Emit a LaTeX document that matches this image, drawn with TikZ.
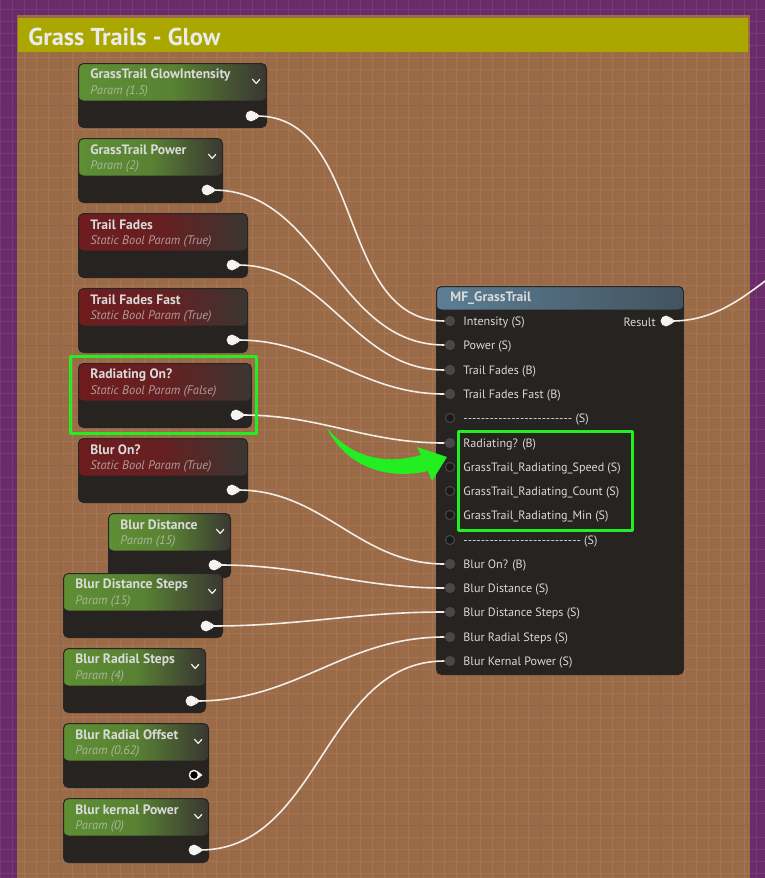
\documentclass[tikz,border=0pt]{standalone}
\usepackage{fontspec}
\setmainfont{PT Sans}
\usepackage{tikz}
\usetikzlibrary{calc}

\definecolor{bgpurple}{HTML}{6B2B6B}
\definecolor{panel}{HTML}{9B6A47}
\definecolor{headyel}{HTML}{AAA800}
\definecolor{pbody}{HTML}{272320}
\definecolor{pgreen}{HTML}{5E8F33}
\definecolor{pred}{HTML}{6E1C1E}
\definecolor{pdark}{HTML}{3A3632}
\definecolor{mfblue}{HTML}{5C7E95}
\definecolor{mfdark}{HTML}{43535F}
\definecolor{wirecol}{HTML}{F2EEE6}
\definecolor{pinw}{HTML}{F4F4F4}
\definecolor{pingray}{HTML}{4A4846}
\definecolor{hlgreen}{HTML}{22EE22}
\definecolor{txtlight}{HTML}{DADADA}
\definecolor{subgreen}{HTML}{A9B79A}
\definecolor{subred}{HTML}{B39A9A}

\newcommand\dashline[1]{\foreach\k in {1,...,#1}{-\kern0pt}}

\begin{document}
\begin{tikzpicture}[x=0.5pt,y=-0.5pt,line join=round,
  param/.style={draw=black!85,line width=0.5pt,rounded corners=2.5pt,fill=pbody,
    anchor=north west,minimum height=32pt,inner sep=0pt},
  pgreenbox/.style={param,path picture={\shade[left color=pgreen,right color=pdark,middle color=pgreen!85!pdark]
    (path picture bounding box.north west) rectangle ([yshift=-18.5pt]path picture bounding box.north east);}},
  predbox/.style={param,path picture={\shade[left color=pred,right color=pdark,middle color=pred!85!pdark]
    (path picture bounding box.north west) rectangle ([yshift=-18.5pt]path picture bounding box.north east);}},
  mfbox/.style={param,path picture={\shade[left color=mfblue,right color=mfdark]
    (path picture bounding box.north west) rectangle ([yshift=-11.5pt]path picture bounding box.north east);}},
  ptitle/.style={anchor=west,inner sep=0pt,yshift=-0.6pt,text=txtlight,font=\bfseries\fontsize{6.8}{8}\selectfont},
  psub/.style={anchor=west,inner sep=0pt,yshift=-0.4pt,font=\itshape\fontsize{6.2}{7}\selectfont},
  mfrow/.style={anchor=west,inner sep=0pt,yshift=-0.7pt,text=txtlight,font=\fontsize{6.05}{7}\selectfont},
  pout/.style={circle,fill=pinw,inner sep=0pt,minimum size=5.4pt},
  pnone/.style={circle,fill=black,draw=pinw,line width=0.7pt,inner sep=0pt,minimum size=4.6pt},
  pinon/.style={circle,fill=pingray,inner sep=0pt,minimum size=5.2pt},
  pinoff/.style={circle,fill=black!90,draw=pingray,line width=0.5pt,inner sep=0pt,minimum size=4.6pt},
  chev/.style={draw=pinw,line width=0.6pt,line cap=round},
  wire/.style={draw=wirecol,line width=0.8pt},
  hl/.style={draw=hlgreen,line width=1.5pt}]
  \useasboundingbox (0,0) rectangle (765,878);
  % background and comment frame
  \fill[bgpurple] (0,0) rectangle (765,878);
  \fill[panel] (17,15) rectangle (750,878);
  \draw[step=6pt,white,opacity=0.08,line width=0.35pt,yshift=1.5pt] (0pt,6pt) grid (384pt,-444pt);
  \draw[step=60pt,black,opacity=0.13,line width=0.5pt,xshift=30pt,yshift=7.5pt] (-30pt,0pt) grid (360pt,-450pt);
  \fill[headyel] (18,18) rectangle (748,52);
  \node[anchor=west,inner sep=0pt,text=white!92!black,font=\bfseries\fontsize{12.2}{14}\selectfont] (frame-t) at (28,37) {Grass Trails - Glow};

  % parameter nodes
  \node[pgreenbox,minimum width=94pt] (gi) at (78,63) {};
  \node[ptitle] (gi-t) at ([xshift=6pt,yshift=-5.5pt]gi.north west) {GrassTrail GlowIntensity};
  \node[psub,text=subgreen] (gi-s) at ([xshift=6pt,yshift=-14pt]gi.north west) {Param (1.5)};
  \draw[chev] ([xshift=-7.2pt,yshift=-8.2pt]gi.north east) -- ++(1.8pt,-2pt) -- ++(1.8pt,2pt);
  \node[pout] (gi-o) at ([xshift=-8pt,yshift=6pt]gi.south east) {};

  \node[pgreenbox,minimum width=72pt] (gp) at (78,138) {};
  \node[ptitle] (gp-t) at ([xshift=6pt,yshift=-5.5pt]gp.north west) {GrassTrail Power};
  \node[psub,text=subgreen] (gp-s) at ([xshift=6pt,yshift=-14pt]gp.north west) {Param (2)};
  \draw[chev] ([xshift=-7.2pt,yshift=-8.2pt]gp.north east) -- ++(1.8pt,-2pt) -- ++(1.8pt,2pt);
  \node[pout] (gp-o) at ([xshift=-8pt,yshift=6.5pt]gp.south east) {};

  \node[predbox,minimum width=84.5pt] (tf) at (78,213) {};
  \node[ptitle] (tf-t) at ([xshift=6pt,yshift=-5.5pt]tf.north west) {Trail Fades};
  \node[psub,text=subred] (tf-s) at ([xshift=6pt,yshift=-14pt]tf.north west) {Static Bool Param (True)};
  \node[pout] (tf-o) at ([xshift=-8pt,yshift=6.5pt]tf.south east) {};

  \node[predbox,minimum width=84.5pt] (tff) at (78,288) {};
  \node[ptitle] (tff-t) at ([xshift=6pt,yshift=-5.5pt]tff.north west) {Trail Fades Fast};
  \node[psub,text=subred] (tff-s) at ([xshift=6pt,yshift=-14pt]tff.north west) {Static Bool Param (True)};
  \node[pout] (tff-o) at ([xshift=-8pt,yshift=6.5pt]tff.south east) {};

  \node[predbox,minimum width=86.5pt] (ro) at (78,363) {};
  \node[ptitle] (ro-t) at ([xshift=6pt,yshift=-5.5pt]ro.north west) {Radiating On?};
  \node[psub,text=subred] (ro-s) at ([xshift=6pt,yshift=-14pt]ro.north west) {Static Bool Param (False)};
  \node[pout] (ro-o) at ([xshift=-8pt,yshift=6.5pt]ro.south east) {};

  \node[predbox,minimum width=84.5pt] (bo) at (78,438) {};
  \node[ptitle] (bo-t) at ([xshift=6pt,yshift=-5.5pt]bo.north west) {Blur On?};
  \node[psub,text=subred] (bo-s) at ([xshift=6pt,yshift=-14pt]bo.north west) {Static Bool Param (True)};
  \node[pout] (bo-o) at ([xshift=-8pt,yshift=6.5pt]bo.south east) {};

  \node[pgreenbox,minimum width=61pt] (bd) at (108,513) {};
  \node[ptitle] (bd-t) at ([xshift=6pt,yshift=-5.5pt]bd.north west) {Blur Distance};
  \node[psub,text=subgreen] (bd-s) at ([xshift=6pt,yshift=-14pt]bd.north west) {Param (15)};
  \draw[chev] ([xshift=-7.2pt,yshift=-8.2pt]bd.north east) -- ++(1.8pt,-2pt) -- ++(1.8pt,2pt);
  \node[pout] (bd-o) at ([xshift=-8.5pt,yshift=6.5pt]bd.south east) {};

  \node[pgreenbox,minimum width=79.5pt] (bds) at (63,573) {};
  \node[ptitle] (bds-t) at ([xshift=6pt,yshift=-5.5pt]bds.north west) {Blur Distance Steps};
  \node[psub,text=subgreen] (bds-s) at ([xshift=6pt,yshift=-14pt]bds.north west) {Param (15)};
  \draw[chev] ([xshift=-7.2pt,yshift=-8.2pt]bds.north east) -- ++(1.8pt,-2pt) -- ++(1.8pt,2pt);
  \node[pout] (bds-o) at ([xshift=-8.5pt,yshift=6pt]bds.south east) {};

  \node[pgreenbox,minimum width=71pt] (brs) at (63,648) {};
  \node[ptitle] (brs-t) at ([xshift=6pt,yshift=-5.5pt]brs.north west) {Blur Radial Steps};
  \node[psub,text=subgreen] (brs-s) at ([xshift=6pt,yshift=-14pt]brs.north west) {Param (4)};
  \draw[chev] ([xshift=-7.2pt,yshift=-8.2pt]brs.north east) -- ++(1.8pt,-2pt) -- ++(1.8pt,2pt);
  \node[pout] (brs-o) at ([xshift=-7.5pt,yshift=6pt]brs.south east) {};

  \node[pgreenbox,minimum width=72.5pt] (bro) at (63,723) {};
  \node[ptitle] (bro-t) at ([xshift=6pt,yshift=-5.5pt]bro.north west) {Blur Radial Offset};
  \node[psub,text=subgreen] (bro-s) at ([xshift=6pt,yshift=-14pt]bro.north west) {Param (0.62)};
  \draw[chev] ([xshift=-7.2pt,yshift=-8.2pt]bro.north east) -- ++(1.8pt,-2pt) -- ++(1.8pt,2pt);
  \node[pnone] (bro-o) at ([xshift=-7.5pt,yshift=6.5pt]bro.south east) {};

  \node[pgreenbox,minimum width=72.5pt] (bkp) at (63,798) {};
  \node[ptitle] (bkp-t) at ([xshift=6pt,yshift=-5.5pt]bkp.north west) {Blur kernal Power};
  \node[psub,text=subgreen] (bkp-s) at ([xshift=6pt,yshift=-14pt]bkp.north west) {Param (0)};
  \draw[chev] ([xshift=-7.2pt,yshift=-8.2pt]bkp.north east) -- ++(1.8pt,-2pt) -- ++(1.8pt,2pt);
  \node[pout] (bkp-o) at ([xshift=-7.5pt,yshift=6.5pt]bkp.south east) {};

  % pin tips
  \fill[pinw] (gi-o.40) -- ([xshift=1.6pt]gi-o.east) -- (gi-o.-40) -- cycle
    (gp-o.40) -- ([xshift=1.6pt]gp-o.east) -- (gp-o.-40) -- cycle
    (tf-o.40) -- ([xshift=1.6pt]tf-o.east) -- (tf-o.-40) -- cycle
    (tff-o.40) -- ([xshift=1.6pt]tff-o.east) -- (tff-o.-40) -- cycle
    (ro-o.40) -- ([xshift=1.6pt]ro-o.east) -- (ro-o.-40) -- cycle
    (bo-o.40) -- ([xshift=1.6pt]bo-o.east) -- (bo-o.-40) -- cycle
    (bd-o.40) -- ([xshift=1.6pt]bd-o.east) -- (bd-o.-40) -- cycle
    (bds-o.40) -- ([xshift=1.6pt]bds-o.east) -- (bds-o.-40) -- cycle
    (brs-o.40) -- ([xshift=1.6pt]brs-o.east) -- (brs-o.-40) -- cycle
    (bro-o.40) -- ([xshift=1.6pt]bro-o.east) -- (bro-o.-40) -- cycle
    (bkp-o.40) -- ([xshift=1.6pt]bkp-o.east) -- (bkp-o.-40) -- cycle;

  % material function node
  \node[mfbox,minimum width=123.5pt,minimum height=194pt] (mf) at (436,286) {};
  \node[ptitle] (mf-t) at (450,297) {MF\_GrassTrail};
  \node[pinon] (mf-int) at (450,321) {};
  \node[mfrow] (mf-int-t) at (463,321) {Intensity (S)};
  \node[pinon] (mf-pow) at (450,345) {};
  \node[mfrow] (mf-pow-t) at (463,345) {Power (S)};
  \node[pinon] (mf-tf) at (450,370) {};
  \node[mfrow] (mf-tf-t) at (463,370) {Trail Fades (B)};
  \node[pinon] (mf-tff) at (450,394) {};
  \node[mfrow] (mf-tff-t) at (463,394) {Trail Fades Fast (B)};
  \node[pinoff] (mf-sep1) at (450,418) {};
  \node[mfrow] (mf-sep1-t) at (463,418) {\dashline{25} (S)};
  \node[pinon] (mf-rad) at (450,443) {};
  \node[mfrow] (mf-rad-t) at (463,443) {Radiating? (B)};
  \node[pinoff] (mf-spd) at (450,467) {};
  \node[mfrow] (mf-spd-t) at (463,467) {GrassTrail\_Radiating\_Speed (S)};
  \node[pinoff] (mf-cnt) at (450,491) {};
  \node[mfrow] (mf-cnt-t) at (463,491) {GrassTrail\_Radiating\_Count (S)};
  \node[pinoff] (mf-min) at (450,515) {};
  \node[mfrow] (mf-min-t) at (463,515) {GrassTrail\_Radiating\_Min (S)};
  \node[pinoff] (mf-sep2) at (450,540) {};
  \node[mfrow] (mf-sep2-t) at (463,540) {\dashline{27} (S)};
  \node[pinon] (mf-bon) at (450,564) {};
  \node[mfrow] (mf-bon-t) at (463,564) {Blur On? (B)};
  \node[pinon] (mf-bd) at (450,588) {};
  \node[mfrow] (mf-bd-t) at (463,588) {Blur Distance (S)};
  \node[pinon] (mf-bds) at (450,612) {};
  \node[mfrow] (mf-bds-t) at (463,612) {Blur Distance Steps (S)};
  \node[pinon] (mf-brs) at (450,637) {};
  \node[mfrow] (mf-brs-t) at (463,637) {Blur Radial Steps (S)};
  \node[pinon] (mf-bkp) at (450,661) {};
  \node[mfrow] (mf-bkp-t) at (463,661) {Blur Kernal Power (S)};
  \node[pout] (mf-res) at (666,321) {};
  \fill[pinw] (mf-res.40) -- ([xshift=1.6pt]mf-res.east) -- (mf-res.-40) -- cycle;
  \node[mfrow,anchor=east] (mf-res-t) at (656,321) {Result};
  \coordinate (res-end) at (860,240);

  % wires
  \draw[wire] (gi-o) to[out=0,in=180] (mf-int);
  \draw[wire] (gp-o) to[out=0,in=180] (mf-pow);
  \draw[wire] (tf-o) to[out=0,in=180] (mf-tf);
  \draw[wire] (tff-o) to[out=0,in=180] (mf-tff);
  \draw[wire] (ro-o) to[out=0,in=180] (mf-rad);
  \draw[wire] (bo-o) to[out=0,in=180] (mf-bon);
  \draw[wire] (bd-o) to[out=0,in=180] (mf-bd);
  \draw[wire] (bds-o) to[out=0,in=180] (mf-bds);
  \draw[wire] (brs-o) to[out=0,in=180] (mf-brs);
  \draw[wire] (bkp-o) to[out=0,in=180] (mf-bkp);
  \draw[wire] (mf-res) to[out=0,in=180] (res-end);

  % highlights
  \draw[hl] (70,356) rectangle (256,433);
  \draw[hl] (458,431) rectangle (632,530);
  \fill[hlgreen] (327,428) .. controls (352,458) and (385,465) .. (421,455)
    -- (417,447) -- (447,457) -- (432,481) -- (428,471)
    .. controls (385,481) and (345,465) .. cycle;
\end{tikzpicture}
\end{document}
